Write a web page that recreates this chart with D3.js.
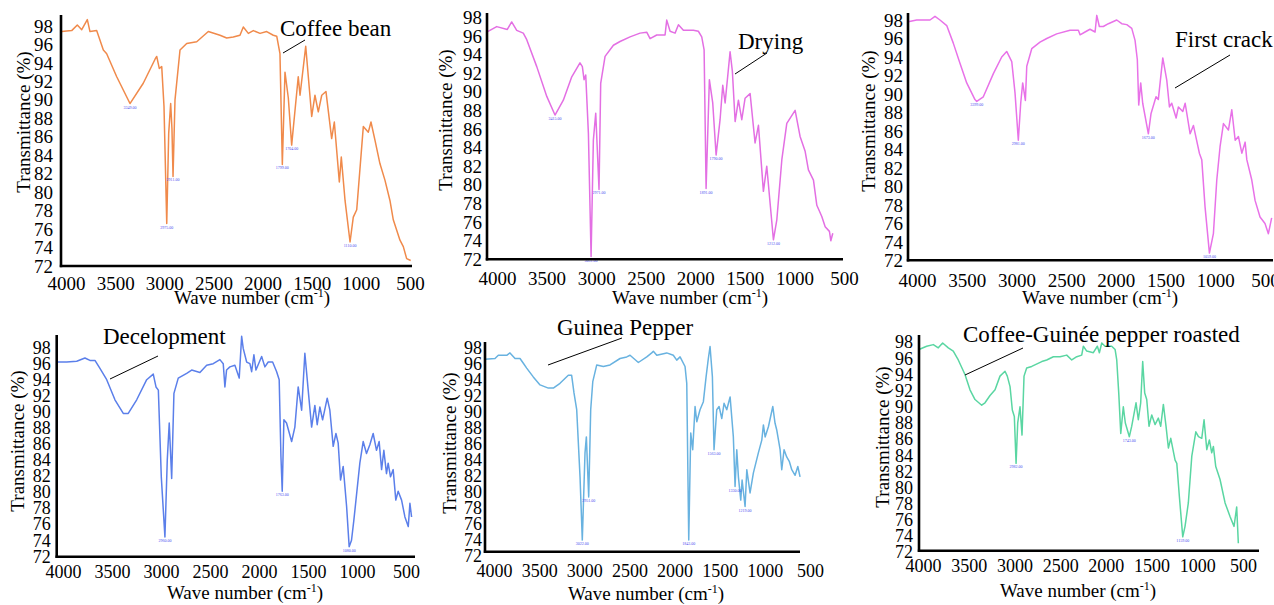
<!DOCTYPE html>
<html>
<head>
<meta charset="utf-8">
<script src="https://cdn.jsdelivr.net/npm/d3@7/dist/d3.min.js"></script>
<style>
  html, body { margin: 0; padding: 0; background: #ffffff; }
  svg { display: block; }
  text { font-family: "Liberation Serif", "Times New Roman", serif; fill: #000; }
</style>
</head>
<body>
<svg id="chart" width="1274" height="605"></svg>
<script>
// ---------------- DATA ----------------
const yTicks = [72, 74, 76, 78, 80, 82, 84, 86, 88, 90, 92, 94, 96, 98];
const xTicks = [4000, 3500, 3000, 2500, 2000, 1500, 1000, 500];
const panelTitles = ["Coffee bean", "Drying", "First crack", "Decelopment", "Guinea Pepper", "Coffee-Guinée pepper roasted"];
const yTitleText = "Transmittance (%)";

const coffeeBeanWave = [4044,3942,3885,3840,3783,3756,3688,3620,3586,3484,3349,3214,3094,3077,3051,3026,3003,2975,2955,2935,2922,2911,2891,2840,2772,2670,2552,2433,2365,2298,2230,2196,2145,2094,2026,1958,1891,1856,1823,1799,1772,1738,1704,1637,1619,1561,1500,1467,1433,1398,1355,1297,1270,1219,1199,1161,1110,1077,1042,975,924,897,856,806,755,704,670,602,568,534,493];
const coffeeBeanT = [97.4,97.5,98.1,97.6,98.7,97.4,97.5,95.4,95.0,92.5,89.6,91.8,94.4,94.7,93.4,93.6,89.3,76.6,86.4,89.6,86.9,81.7,90.0,95.4,96.1,96.3,97.4,97.0,96.7,96.8,97.0,97.9,97.2,97.5,97.2,97.4,97.0,96.9,95.0,83.0,93.0,90.2,85.1,92.5,90.5,95.8,88.2,90.5,88.7,90.5,90.9,85.8,87.6,81.1,83.8,79.1,74.6,77.3,78.1,87.1,86.5,87.6,85.6,83.1,81.3,79.1,77.0,74.8,74.1,72.8,72.6];
const coffeeBeanPeaks = [3349, 2975, 2911, 1799, 1704, 1110];

const dryingWave = [4104,4003,3896,3852,3801,3735,3700,3599,3498,3415,3331,3246,3163,3139,3122,3105,3078,3051,3028,3004,2971,2954,2910,2826,2759,2658,2557,2490,2456,2389,2305,2288,2254,2204,2170,2120,2019,1969,1935,1911,1891,1858,1824,1790,1750,1723,1699,1649,1626,1598,1565,1531,1498,1447,1397,1363,1313,1279,1212,1178,1127,1077,993,943,892,859,808,774,724,690,647,633,613];
const dryingT = [96.4,97.0,96.7,97.5,96.6,96.3,95.6,92.7,89.5,87.5,89.1,91.6,93.1,92.7,91.3,91.8,85.5,72.3,84.8,87.7,79.5,90.9,93.8,95.0,95.4,95.9,96.3,96.4,95.7,96.1,96.1,97.7,96.5,96.3,97.2,96.6,96.6,96.5,95.9,94.5,79.6,91.3,88.8,83.2,87.0,90.7,88.8,94.3,92.2,86.8,89.1,87.0,89.3,89.8,84.5,86.4,79.3,82.0,74.1,76.2,82.7,86.6,88.0,85.2,83.6,81.6,80.5,77.8,76.6,75.5,75.0,74.0,74.8];
const dryingPeaks = [3415, 3051, 2971, 1891, 1790, 1212];

const firstCrackWave = [4088,4003,3869,3819,3769,3701,3635,3567,3500,3417,3399,3333,3232,3148,3098,3047,3014,2981,2957,2937,2910,2896,2846,2763,2695,2595,2461,2377,2360,2310,2260,2209,2192,2166,2126,2075,1991,1941,1890,1840,1807,1784,1770,1750,1730,1673,1646,1596,1573,1528,1488,1461,1438,1394,1371,1327,1303,1253,1220,1160,1136,1103,1059,1019,985,952,918,868,834,800,767,733,700,683,633,600,550,500,466,433];
const firstCrackT = [97.8,98.0,98.0,98.4,98.0,97.4,95.5,93.3,91.2,89.4,89.2,89.7,92.2,94.0,94.6,93.5,90.1,85.0,89.0,91.2,89.3,93.0,94.9,95.6,96.0,96.5,96.9,96.9,96.4,96.7,97.0,96.7,98.5,97.3,97.3,97.6,98.0,97.6,97.5,97.1,95.8,93.7,88.8,91.2,89.0,85.7,87.9,89.7,89.4,93.9,91.5,88.6,89.0,87.4,88.6,88.1,89.0,85.7,86.6,83.6,82.9,77.8,72.8,74.9,80.7,84.3,86.8,86.1,88.3,85.0,85.4,83.6,84.8,82.9,80.7,78.5,76.7,76.0,74.9,76.6];
const firstCrackPeaks = [3399, 2981, 1673, 1059];

const developmentWave = [4064,3962,3860,3776,3725,3674,3623,3554,3470,3385,3334,3248,3146,3079,3051,3027,2997,2960,2936,2916,2891,2868,2824,2738,2687,2603,2534,2467,2399,2365,2348,2331,2297,2246,2202,2177,2161,2126,2093,2075,2052,2031,1973,1940,1906,1861,1820,1794,1776,1763,1746,1719,1667,1634,1600,1565,1532,1498,1463,1430,1406,1379,1351,1304,1277,1243,1215,1192,1168,1141,1106,1080,1056,1032,971,937,903,869,835,801,774,749,726,699,682,658,631,604,580,545,511,477,460,443];
const developmentT = [96.2,96.2,96.3,96.7,96.4,96.4,95.4,94.0,91.5,89.8,89.8,91.5,94.0,94.7,93.1,92.7,81.9,74.4,84.0,88.6,81.7,92.3,94.2,94.8,95.2,94.9,95.8,96.0,96.5,96.0,93.1,95.2,95.6,95.8,94.2,99.4,97.9,96.2,96.0,95.0,97.1,95.2,96.9,95.6,96.2,96.2,95.0,94.0,84.4,80.1,89.0,88.6,86.3,88.1,93.1,90.2,97.3,92.7,88.1,90.8,88.4,90.6,89.0,91.7,90.2,85.7,87.3,86.1,81.5,83.2,78.2,73.2,74.0,76.5,83.6,86.3,84.8,85.9,87.3,85.2,86.3,82.8,85.2,82.3,83.6,81.9,82.8,79.0,80.1,79.0,76.9,75.7,78.6,76.9];
const developmentPeaks = [2960, 1763, 1080];

const guineaWave = [4100,3989,3952,3859,3823,3767,3712,3675,3638,3565,3490,3398,3343,3269,3177,3140,3114,3084,3047,3022,2992,2977,2951,2929,2906,2862,2789,2715,2604,2530,2493,2401,2308,2253,2235,2197,2087,2014,1976,1939,1884,1865,1843,1821,1799,1773,1754,1718,1681,1651,1626,1607,1581,1563,1533,1507,1477,1452,1422,1385,1349,1330,1311,1293,1267,1252,1219,1200,1164,1127,1072,1034,1016,997,960,912,887,869,831,813,787,758,728,702,665,635,610];
const guineaT = [96.5,96.6,97.0,97.0,97.3,96.6,96.6,96.0,95.4,94.3,93.3,92.9,92.9,93.5,94.5,94.5,92.3,90.2,81.8,73.9,84.8,86.8,79.3,90.2,93.7,95.8,95.6,95.8,96.6,96.8,97.0,96.1,96.8,97.3,97.5,97.0,97.3,97.0,96.4,96.8,95.6,93.5,73.9,87.3,85.2,90.6,88.7,90.2,91.2,94.3,96.6,98.1,94.3,85.2,90.2,90.6,89.1,91.0,90.2,91.8,86.8,80.6,85.2,81.8,78.9,81.4,78.1,82.7,79.8,82.3,84.8,86.4,88.3,86.8,88.1,90.6,88.5,87.7,85.2,82.7,85.2,84.3,83.7,82.7,82.0,83.1,81.8];
const guineaPeaks = [3022, 2951, 1843, 1563, 1330, 1219];

const blendWave = [4044,3960,3887,3833,3785,3723,3669,3614,3541,3486,3431,3358,3322,3267,3212,3158,3103,3078,3048,3023,3001,2982,2964,2939,2917,2895,2866,2811,2701,2647,2574,2501,2428,2373,2318,2264,2246,2209,2137,2093,2071,2045,2009,1936,1899,1881,1859,1837,1809,1787,1743,1717,1670,1645,1619,1597,1575,1553,1528,1498,1462,1426,1400,1371,1342,1316,1290,1243,1224,1196,1159,1134,1098,1060,1016,987,951,926,896,868,842,824,798,751,696,641,598,569,551];
const blendT = [97.1,97.5,97.7,97.3,97.9,97.3,96.9,95.8,94.0,92.1,90.9,90.2,90.5,91.4,92.1,93.8,94.4,93.8,92.5,89.6,88.8,83.0,88.0,90.0,86.5,93.8,94.8,95.0,95.6,95.8,96.2,96.2,96.4,95.8,96.2,96.4,97.5,96.9,96.7,97.5,96.7,97.9,97.5,97.5,97.1,95.8,91.7,86.7,90.0,88.0,86.3,87.6,90.5,88.4,90.5,95.6,91.7,90.9,87.6,89.0,87.8,88.6,87.6,90.3,87.6,84.9,86.1,83.4,83.0,78.9,73.9,75.2,78.1,83.9,86.9,86.3,86.1,88.4,84.7,85.9,84.3,85.1,82.6,81.0,78.1,76.4,75.2,77.6,73.1];
const blendPeaks = [2982, 1743, 1159];

// ---------------- LAYOUT ----------------
const panels = [
  { title: panelTitles[0], wave: coffeeBeanWave, trans: coffeeBeanT, peaks: coffeeBeanPeaks, color: "#F08A4B",
    x4000: 66, x500: 410, y72: 266, y98: 26, axX0: 61, axX1: 412, axY: 266, axTop: 15,
    yPad: 8, xBase: 290, fs: 19, titlePos: [280, 36], leader: [283, 53, 305, 40], yTitle: [23, 122], xTitle: [252, 304] },
  { title: panelTitles[1], wave: dryingWave, trans: dryingT, peaks: dryingPeaks, color: "#E36FE3",
    x4000: 497, x500: 844, y72: 259.3, y98: 17.3, axX0: 487, axX1: 843, axY: 259.3, axTop: 13,
    yPad: 5, xBase: 285, fs: 19, titlePos: [738, 49], leader: [735, 74, 767, 53], yTitle: [445.5, 120], xTitle: [690, 304] },
  { title: panelTitles[2], wave: firstCrackWave, trans: firstCrackT, peaks: firstCrackPeaks, color: "#E872E8",
    x4000: 917, x500: 1265, y72: 260.5, y98: 20, axX0: 908, axX1: 1273, axY: 260.3, axTop: 13,
    yPad: 5, xBase: 287, fs: 19, titlePos: [1175, 47], leader: [1175, 88, 1230, 55], yTitle: [868.5, 121], xTitle: [1100, 304] },
  { title: panelTitles[3], wave: developmentWave, trans: developmentT, peaks: developmentPeaks, color: "#5B7FEA",
    x4000: 63, x500: 406, y72: 556.3, y98: 347.6, axX0: 56.7, axX1: 415, axY: 556.7, axTop: 335,
    yPad: 6, xBase: 578, fs: 18, titlePos: [103, 344], leader: [110, 379, 158, 356], yTitle: [17.5, 441], xTitle: [245, 599] },
  { title: panelTitles[4], wave: guineaWave, trans: guineaT, peaks: guineaPeaks, color: "#68B2E0",
    x4000: 494, x500: 810, y72: 555.3, y98: 347.3, axX0: 485, axX1: 800, axY: 551.7, axTop: 342,
    yPad: 3, xBase: 577, fs: 18, titlePos: [557, 335], leader: [548, 365, 622, 338], yTitle: [449.5, 443], xTitle: [646, 600] },
  { title: panelTitles[5], wave: blendWave, trans: blendT, peaks: blendPeaks, color: "#5AD6A2",
    x4000: 923, x500: 1243, y72: 552.2, y98: 342.2, axX0: 919, axX1: 1259, axY: 550.7, axTop: 335,
    yPad: 6, xBase: 572, fs: 18, titlePos: [963, 342], leader: [965, 375, 1023, 348], yTitle: [882.5, 437], xTitle: [1078, 597] }
];

const svg = d3.select("#chart");

panels.forEach(p => {
  const g = svg.append("g");
  const x = d3.scaleLinear().domain([4000, 500]).range([p.x4000, p.x500]);
  const y = d3.scaleLinear().domain([72, 98]).range([p.y72, p.y98]);
  const data = p.wave.map((w, i) => ({ w: w, t: p.trans[i] }));

  // spectrum line
  const line = d3.line().x(d => x(d.w)).y(d => y(d.t));
  g.append("path").datum(data)
    .attr("d", line)
    .attr("fill", "none")
    .attr("stroke", p.color)
    .attr("stroke-width", 1.5)
    .attr("stroke-linejoin", "round");

  // tiny peak labels
  p.peaks.forEach(pw => {
    const d = data.reduce((a, b) => Math.abs(b.w - pw) < Math.abs(a.w - pw) ? b : a);
    g.append("text")
      .attr("x", x(d.w)).attr("y", y(d.t) + 5)
      .attr("text-anchor", "middle")
      .style("font-size", "4px")
      .style("fill", "#4a4af0")
      .text(d3.format(".2f")(d.w));
  });

  // y axis labels
  const yAx = g.append("g")
    .attr("transform", `translate(${p.axX0},0)`)
    .call(d3.axisLeft(y).tickValues(yTicks).tickSize(0).tickPadding(p.yPad).tickFormat(d3.format("d")));
  yAx.select(".domain").remove();
  yAx.selectAll("text").style("font-size", p.fs + "px").style("font-family", '"Liberation Serif", serif').attr("fill", "#000");

  // x axis labels
  const xAx = g.append("g")
    .attr("transform", `translate(0,${p.axY})`)
    .call(d3.axisBottom(x).tickValues(xTicks).tickSize(0).tickPadding(0).tickFormat(d3.format("d")));
  xAx.select(".domain").remove();
  xAx.selectAll("text")
    .attr("dy", null)
    .attr("y", p.xBase - p.axY)
    .style("font-size", p.fs + "px").style("font-family", '"Liberation Serif", serif').attr("fill", "#000");

  // axis lines (thick black)
  g.append("line").attr("x1", p.axX0).attr("x2", p.axX0).attr("y1", p.axTop).attr("y2", p.axY + 1.2)
    .attr("stroke", "#000").attr("stroke-width", 2.6);
  g.append("line").attr("x1", p.axX0 - 1.2).attr("x2", p.axX1).attr("y1", p.axY).attr("y2", p.axY)
    .attr("stroke", "#000").attr("stroke-width", 2.6);

  // y title
  g.append("text")
    .attr("transform", `translate(${p.yTitle[0]},${p.yTitle[1]}) rotate(-90)`)
    .attr("text-anchor", "middle")
    .attr("dominant-baseline", "central")
    .style("font-size", "19px")
    .text(yTitleText);

  // x title with superscript
  const xt = g.append("text")
    .attr("x", p.xTitle[0]).attr("y", p.xTitle[1])
    .attr("text-anchor", "middle")
    .style("font-size", "19px");
  xt.append("tspan").text("Wave number (cm");
  xt.append("tspan").attr("dy", -7).style("font-size", "12px").text("-1");
  xt.append("tspan").attr("dy", 7).text(")");

  // panel label + leader line
  g.append("text")
    .attr("x", p.titlePos[0]).attr("y", p.titlePos[1])
    .style("font-size", "23px")
    .text(p.title);
  g.append("line")
    .attr("x1", p.leader[0]).attr("y1", p.leader[1])
    .attr("x2", p.leader[2]).attr("y2", p.leader[3])
    .attr("stroke", "#000").attr("stroke-width", 1);
});
</script>
</body>
</html>
